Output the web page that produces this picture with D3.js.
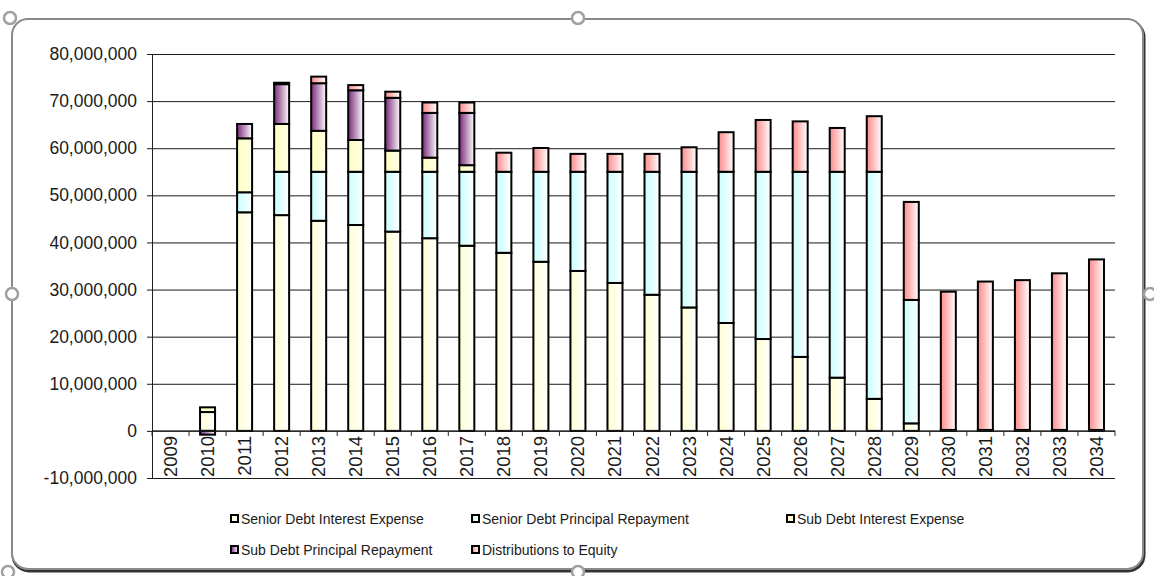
<!DOCTYPE html>
<html>
<head>
<meta charset="utf-8">
<script src="https://cdn.jsdelivr.net/npm/d3@7"></script>
<style>
  body { margin: 0; background: #fff; }
  svg { display: block; font-family: "Liberation Sans", Arial, sans-serif; }
</style>
</head>
<body>
<div id="chart"></div>
<script>
  // chart values
  var years = ["2009","2010","2011","2012","2013","2014","2015","2016","2017","2018","2019","2020","2021",
               "2022","2023","2024","2025","2026","2027","2028","2029","2030","2031","2032","2033","2034"]

  var seriesNames = ["Senior Debt Interest Expense", "Senior Debt Principal Repayment",
                     "Sub Debt Interest Expense", "Sub Debt Principal Repayment", "Distributions to Equity"]

  var seniorInterest = [0, 4000000, 46400000, 45800000, 44600000, 43700000, 42300000, 40900000, 39300000,
                        37800000, 35900000, 33950000, 31400000, 28900000, 26200000, 22900000, 19500000,
                        15700000, 11300000, 6800000, 1600000, 200000, 200000, 200000, 200000, 200000]

  var seniorPrincipal = [0, 0, 4250000, 9200000, 10400000, 11300000, 12700000, 14100000, 15700000,
                         17200000, 19100000, 21050000, 23600000, 26100000, 28800000, 32100000, 35500000,
                         39300000, 43700000, 48200000, 26200000, 0, 0, 0, 0, 0]

  var subInterest = [0, 1000000, 11450000, 10150000, 8700000, 6750000, 4500000, 3000000, 1400000,
                     0, 0, 0, 0, 0, 0, 0, 0, 0, 0, 0, 0, 0, 0, 0, 0, 0]

  var subPrincipal = [0, -800000, 3050000, 8450000, 10100000, 10550000, 11200000, 9500000, 11100000,
                      0, 0, 0, 0, 0, 0, 0, 0, 0, 0, 0, 0, 0, 0, 0, 0, 0]

  var distributions = [0, 0, 0, 300000, 1400000, 1100000, 1300000, 2200000, 2200000,
                       4050000, 5050000, 3800000, 3800000, 3800000, 5200000, 8400000, 11000000,
                       10700000, 9300000, 11800000, 20800000, 29350000, 31500000, 31800000, 33250000, 36200000]

  var yTicks = [-10000000, 0, 10000000, 20000000, 30000000, 40000000, 50000000, 60000000, 70000000, 80000000]

  // gradient stops for each series (left colour, right colour)
  var colorsLeft  = ["#ffffd2", "#c8ffff", "#ffffc0", "#7a2a7a", "#ff8a8a"]
  var colorsRight = ["#ffffff", "#ffffff", "#ffffe6", "#ffffff", "#ffffff"]

  var data = years.map(function(y, i) {
    var row = { year: y }
    row[seriesNames[0]] = seniorInterest[i]
    row[seriesNames[1]] = seniorPrincipal[i]
    row[seriesNames[2]] = subInterest[i]
    row[seriesNames[3]] = subPrincipal[i]
    row[seriesNames[4]] = distributions[i]
    return row
  })

  var W = 1154, H = 576
  var plot = { left: 152, right: 1115, top: 54, bottom: 478 }

  var svg = d3.select("#chart").append("svg")
      .attr("width", W)
      .attr("height", H)

  // chart frame (the selected Excel chart object)
  svg.append("rect")
      .attr("x", 13).attr("y", 21)
      .attr("width", 1131).attr("height", 550)
      .attr("rx", 16)
      .attr("fill", "none")
      .attr("stroke", "#333")
      .attr("stroke-width", 3)
  svg.append("rect")
      .attr("x", 12).attr("y", 19)
      .attr("width", 1131).attr("height", 550)
      .attr("rx", 16)
      .attr("fill", "#fff")
      .attr("stroke", "#8a8a8a")
      .attr("stroke-width", 2)

  var defs = svg.append("defs")
  seriesNames.forEach(function(s, i) {
    var g = defs.append("linearGradient")
        .attr("id", "grad" + i)
        .attr("x1", "0%").attr("x2", "100%")
        .attr("y1", "0%").attr("y2", "0%")
    g.append("stop").attr("offset", "0%").attr("stop-color", colorsLeft[i])
    g.append("stop").attr("offset", "100%").attr("stop-color", colorsRight[i])
  })

  var xScale = d3.scaleBand()
      .domain(years)
      .range([plot.left, plot.right])
      .paddingInner(0.595)
      .paddingOuter(0.2975)

  var yScale = d3.scaleLinear()
      .domain([-10000000, 80000000])
      .range([plot.bottom, plot.top])

  var fmt = function(v) { return d3.format(",")(v).replace("\u2212", "-") }

  // gridlines + y axis
  var yAxis = d3.axisLeft(yScale)
      .tickValues(yTicks)
      .tickFormat(fmt)
      .tickSizeInner(-(plot.right - plot.left))
      .tickSizeOuter(0)
      .tickPadding(15)

  var yg = svg.append("g")
      .attr("class", "y axis")
      .attr("transform", "translate(" + plot.left + ",0)")
      .call(yAxis)
  yg.select(".domain").attr("stroke", "#222").attr("stroke-width", 1)
  yg.selectAll(".tick line").attr("stroke", "#1a1a1a").attr("stroke-width", 1).attr("x1", -5)
  yg.selectAll(".tick text")
      .attr("font-family", "'Liberation Sans', Arial, sans-serif")
      .attr("font-size", 17.5)
      .attr("fill", "#1a1a1a")

  // stacked bars
  var stack = d3.stack()
      .keys(seriesNames)
      .offset(d3.stackOffsetDiverging)

  var layers = stack(data)

  svg.selectAll(".layer")
      .data(layers)
    .enter().append("g")
      .attr("class", "layer")
      .attr("fill", function(d, i) { return "url(#grad" + i + ")" })
    .selectAll("rect")
      .data(function(d) { return d.filter(function(p) { return p[1] - p[0] !== 0 }) })
    .enter().append("rect")
      .attr("x", function(d) { return xScale(d.data.year) })
      .attr("width", xScale.bandwidth())
      .attr("y", function(d) { return yScale(Math.max(d[0], d[1])) })
      .attr("height", function(d) { return Math.abs(yScale(d[0]) - yScale(d[1])) })
      .attr("stroke", "#000")
      .attr("stroke-width", 2)

  // category axis at zero, ticks between categories
  var x0 = yScale(0)
  svg.append("line")
      .attr("x1", plot.left).attr("x2", plot.right)
      .attr("y1", x0).attr("y2", x0)
      .attr("stroke", "#222")
  var bounds = years.map(function(y) { return xScale(y) + xScale.bandwidth() / 2 - xScale.step() / 2 })
  bounds.push(plot.right)
  svg.selectAll(".xtick")
      .data(bounds)
    .enter().append("line")
      .attr("class", "xtick")
      .attr("x1", function(d) { return d }).attr("x2", function(d) { return d })
      .attr("y1", x0).attr("y2", x0 + 5)
      .attr("stroke", "#222")

  svg.selectAll(".xlabel")
      .data(years)
    .enter().append("text")
      .attr("class", "xlabel")
      .attr("transform", function(d) {
        return "translate(" + (xScale(d) + xScale.bandwidth() / 2) + "," + (x0 + 5) + ") rotate(-90)"
      })
      .attr("text-anchor", "end")
      .attr("dy", "0.35em")
      .attr("font-size", 18.5)
      .attr("fill", "#1a1a1a")
      .text(function(d) { return d })

  // legend
  var legendPos = [[230, 519], [471, 519], [786, 519], [230, 550], [471, 550]]
  var legend = svg.selectAll(".legend")
      .data(seriesNames)
    .enter().append("g")
      .attr("class", "legend")
      .attr("transform", function(d, i) { return "translate(" + legendPos[i][0] + "," + legendPos[i][1] + ")" })
  legend.append("rect")
      .attr("x", 1).attr("y", -4)
      .attr("width", 7).attr("height", 7)
      .attr("fill", function(d, i) { return "url(#grad" + i + ")" })
      .attr("stroke", "#000")
      .attr("stroke-width", 2)
  legend.append("text")
      .attr("x", 11)
      .attr("y", 5)
      .attr("font-size", 14)
      .attr("fill", "#1a1a1a")
      .text(function(d) { return d })

  // selection handles around the chart object
  var handles = [[10, 18], [578, 18], [12, 294], [1150, 294], [578, 572], [8, 572]]
  svg.selectAll(".handle")
      .data(handles)
    .enter().append("circle")
      .attr("class", "handle")
      .attr("cx", function(d) { return d[0] })
      .attr("cy", function(d) { return d[1] })
      .attr("r", 6)
      .attr("fill", "#fff")
      .attr("stroke", "#a0a0a0")
      .attr("stroke-width", 2.5)
</script>
</body>
</html>
